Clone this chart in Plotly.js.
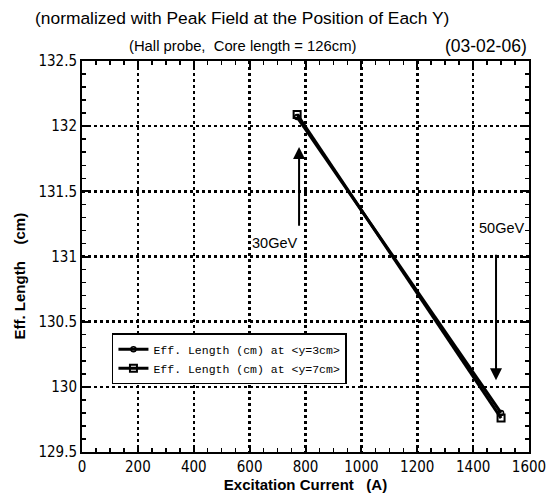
<!DOCTYPE html>
<html>
<head>
<meta charset="utf-8">
<script src="https://cdn.plot.ly/plotly-3.0.1.min.js"></script>
<style>
  html, body { margin: 0; padding: 0; background: #fff; }
  #chart { width: 550px; height: 501px; }
</style>
</head>
<body>
<div id="chart"></div>
<script>
// Excitation current (A) at the 30 GeV and 50 GeV settings
const current = [770, 1500];
// Effective length (cm) measured at two transverse positions
const effLenY3 = [132.07, 129.80];
const effLenY7 = [132.09, 129.76];
const seriesNames = ['Eff. Length (cm) at <y=3cm>', 'Eff. Length (cm) at <y=7cm>'];

const xTicks = [0, 200, 400, 600, 800, 1000, 1200, 1400, 1600];
const yTicks = [129.5, 130, 130.5, 131, 131.5, 132, 132.5];
const yTickText = ['129.5', '130', '130.5', '131', '131.5', '132', '132.5'];

const sans = '"Liberation Sans", Arial, sans-serif';
const tickFont = { family: '"DejaVu Sans Condensed", "Liberation Sans Narrow", "Liberation Sans", sans-serif', size: 15, color: '#000' };
const titleFont = { family: sans, size: 15, color: '#000', weight: 'bold' };

const traces = [
  {
    x: current, y: effLenY3, name: seriesNames[0], type: 'scatter', mode: 'lines+markers',
    line: { color: '#000', width: 3 },
    marker: { symbol: 'circle-open', size: 5, color: '#000', line: { width: 1.5, color: '#000' } }
  },
  {
    x: current, y: effLenY7, name: seriesNames[1], type: 'scatter', mode: 'lines+markers',
    line: { color: '#000', width: 3 },
    marker: { symbol: 'square-open', size: 7, color: '#000', line: { width: 2, color: '#000' } }
  }
];

const axisCommon = {
  showline: true, linecolor: '#000', linewidth: 2,
  mirror: 'ticks', ticks: 'inside', ticklen: 7, tickwidth: 2, tickcolor: '#000',
  showgrid: true, gridcolor: '#000', gridwidth: 2.5, griddash: 'dot',
  zeroline: false, tickfont: tickFont
};

const layout = {
  width: 550, height: 501,
  margin: { l: 82, r: 21, t: 61, b: 49 },
  paper_bgcolor: '#fff', plot_bgcolor: '#fff',
  showlegend: true,
  legend: {
    x: 0.067, y: 0.304, xanchor: 'left', yanchor: 'top',
    bgcolor: '#fff', bordercolor: '#000', borderwidth: 1.5,
    font: { family: '"Liberation Mono", "DejaVu Sans Mono", monospace', size: 11.5, color: '#000' },
    tracegroupgap: 0
  },
  xaxis: Object.assign({}, axisCommon, {
    range: [0, 1600], tickvals: xTicks,
    minor: { dtick: 50, tick0: 0, ticks: 'inside', ticklen: 4, tickwidth: 1.5, tickcolor: '#000', showgrid: false },
    title: { text: 'Excitation Current   (A)', font: titleFont, standoff: 2 }
  }),
  yaxis: Object.assign({}, axisCommon, {
    range: [129.5, 132.5], tickvals: yTicks, ticktext: yTickText,
    minor: { dtick: 0.1, tick0: 129.5, ticks: 'inside', ticklen: 4, tickwidth: 1.5, tickcolor: '#000', showgrid: false }
  }),
  annotations: [
    // heading lines above the plot
    { xref: 'paper', yref: 'paper', x: -0.11, y: 1.11, xanchor: 'left', yanchor: 'middle', showarrow: false,
      text: '(normalized with Peak Field at the Position of Each Y)', font: { family: sans, size: 17.4, color: '#000' } },
    { xref: 'paper', yref: 'paper', x: 0.358, y: 1.038, xanchor: 'center', yanchor: 'middle', showarrow: false,
      text: '(Hall probe,  Core length = 126cm)', font: { family: sans, size: 14.8, color: '#000' } },
    { xref: 'paper', yref: 'paper', x: 1.0, y: 1.038, xanchor: 'right', yanchor: 'middle', showarrow: false,
      text: '(03-02-06)', font: { family: sans, size: 17.5, color: '#000' } },
    // vertical axis title, drawn as an annotation so it can sit a little lower
    { xref: 'paper', yref: 'paper', x: -0.14, y: 0.45, xanchor: 'center', yanchor: 'middle', showarrow: false,
      textangle: -90, text: 'Eff. Length    (cm)', font: titleFont },
    // 30 GeV marker arrow pointing up to the first point
    { xref: 'x', yref: 'y', axref: 'x', ayref: 'y', x: 777, y: 131.84, ax: 777, ay: 131.16,
      text: ' ', showarrow: true, arrowhead: 2, arrowsize: 1.2, arrowwidth: 2, arrowcolor: '#000' },
    { xref: 'x', yref: 'y', x: 777, y: 131.10, xanchor: 'right', yanchor: 'middle', showarrow: false,
      text: '30GeV', font: { family: sans, size: 14.5, color: '#000' } },
    // 50 GeV marker arrow pointing down to the last point
    { xref: 'x', yref: 'y', axref: 'x', ayref: 'y', x: 1482, y: 130.05, ax: 1482, ay: 131.09,
      text: ' ', showarrow: true, arrowhead: 2, arrowsize: 1.2, arrowwidth: 2, arrowcolor: '#000' },
    { xref: 'x', yref: 'y', x: 1500, y: 131.22, xanchor: 'center', yanchor: 'middle', showarrow: false,
      text: '50GeV', font: { family: sans, size: 14.5, color: '#000' } }
  ]
};

Plotly.newPlot('chart', traces, layout, { displayModeBar: false, staticPlot: true });
</script>
</body>
</html>
